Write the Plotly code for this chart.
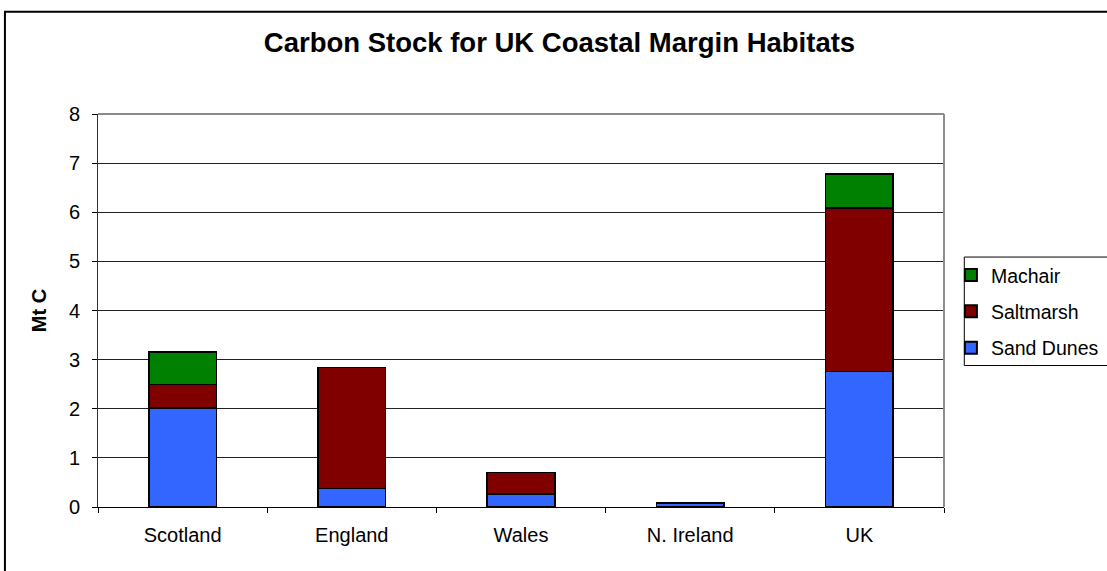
import plotly.graph_objects as go

regions = ["Scotland", "England", "Wales", "N. Ireland", "UK"]
sand_dunes = [2.01, 0.38, 0.27, 0.08, 2.76]
saltmarsh = [0.48, 2.46, 0.43, 0.0, 3.33]
machair = [0.66, 0.0, 0.0, 0.0, 0.69]
y_ticks = [0, 1, 2, 3, 4, 5, 6, 7, 8]

# (name, values, colour, legend position from the top)
series = [
    ("Sand Dunes", sand_dunes, "#3366FF", 3),
    ("Saltmarsh", saltmarsh, "#800000", 2),
    ("Machair", machair, "#008000", 1),
]

fig = go.Figure()
for name, vals, color, rank in series:
    fig.add_trace(go.Bar(
        x=regions, y=vals, name=name, legendgroup=name, legendrank=rank,
        marker=dict(color=color, line=dict(color="black", width=1.6)),
    ))

font = "Arial, Liberation Sans, sans-serif"
fig.update_layout(
    width=1107, height=571,
    barmode="stack", bargap=0.6,
    paper_bgcolor="white", plot_bgcolor="white",
    margin=dict(l=98, r=163, t=114, b=64, autoexpand=False),
    font=dict(family=font, size=20, color="black"),
    title=dict(
        text="<b>Carbon Stock for UK Coastal Margin Habitats</b>",
        x=0.5054, xanchor="center", y=0.925, yanchor="middle",
        font=dict(size=27.5, family=font),
    ),
    legend=dict(
        xref="container", yref="container",
        x=0.859, xanchor="left", y=0.552, yanchor="top",
        traceorder="grouped",
        bgcolor="rgba(0,0,0,0)", borderwidth=0,
        font=dict(size=19.5), itemsizing="constant",
        tracegroupgap=8,
    ),
    xaxis=dict(
        showline=True, linecolor="black", linewidth=1,
        ticks="outside", ticklen=5, tickcolor="black",
        tickson="boundaries", showgrid=False,
        ticklabelstandoff=10,
    ),
    yaxis=dict(
        range=[0, 8], tickvals=y_ticks,
        showline=True, linecolor="#333333", linewidth=1,
        ticks="outside", ticklen=5, tickcolor="black",
        showgrid=True, gridcolor="#222222", gridwidth=1,
        zeroline=False, ticklabelstandoff=8,
        title=dict(text="<b>Mt C</b>", standoff=16, font=dict(size=20)),
    ),
)

# plot-area frame (top and right edges in grey)
fig.add_shape(type="line", xref="paper", yref="paper", x0=0, x1=1, y0=1, y1=1,
              line=dict(color="#8c8c8c", width=2))
fig.add_shape(type="line", xref="paper", yref="paper", x0=1, x1=1, y0=0, y1=1,
              line=dict(color="#8c8c8c", width=2))

# legend box, running off the right-hand edge
fig.add_shape(type="rect", xref="paper", yref="paper",
              x0=1.024, x1=1.35, y0=0.36, y1=0.636,
              line=dict(color="black", width=1), fillcolor="rgba(0,0,0,0)")

# outer chart border
fig.add_shape(type="rect", xref="paper", yref="paper",
              x0=-0.11, x1=1.35, y0=-0.25, y1=1.26,
              line=dict(color="black", width=2), fillcolor="rgba(0,0,0,0)",
              layer="below")

fig.write_html("out.html")
